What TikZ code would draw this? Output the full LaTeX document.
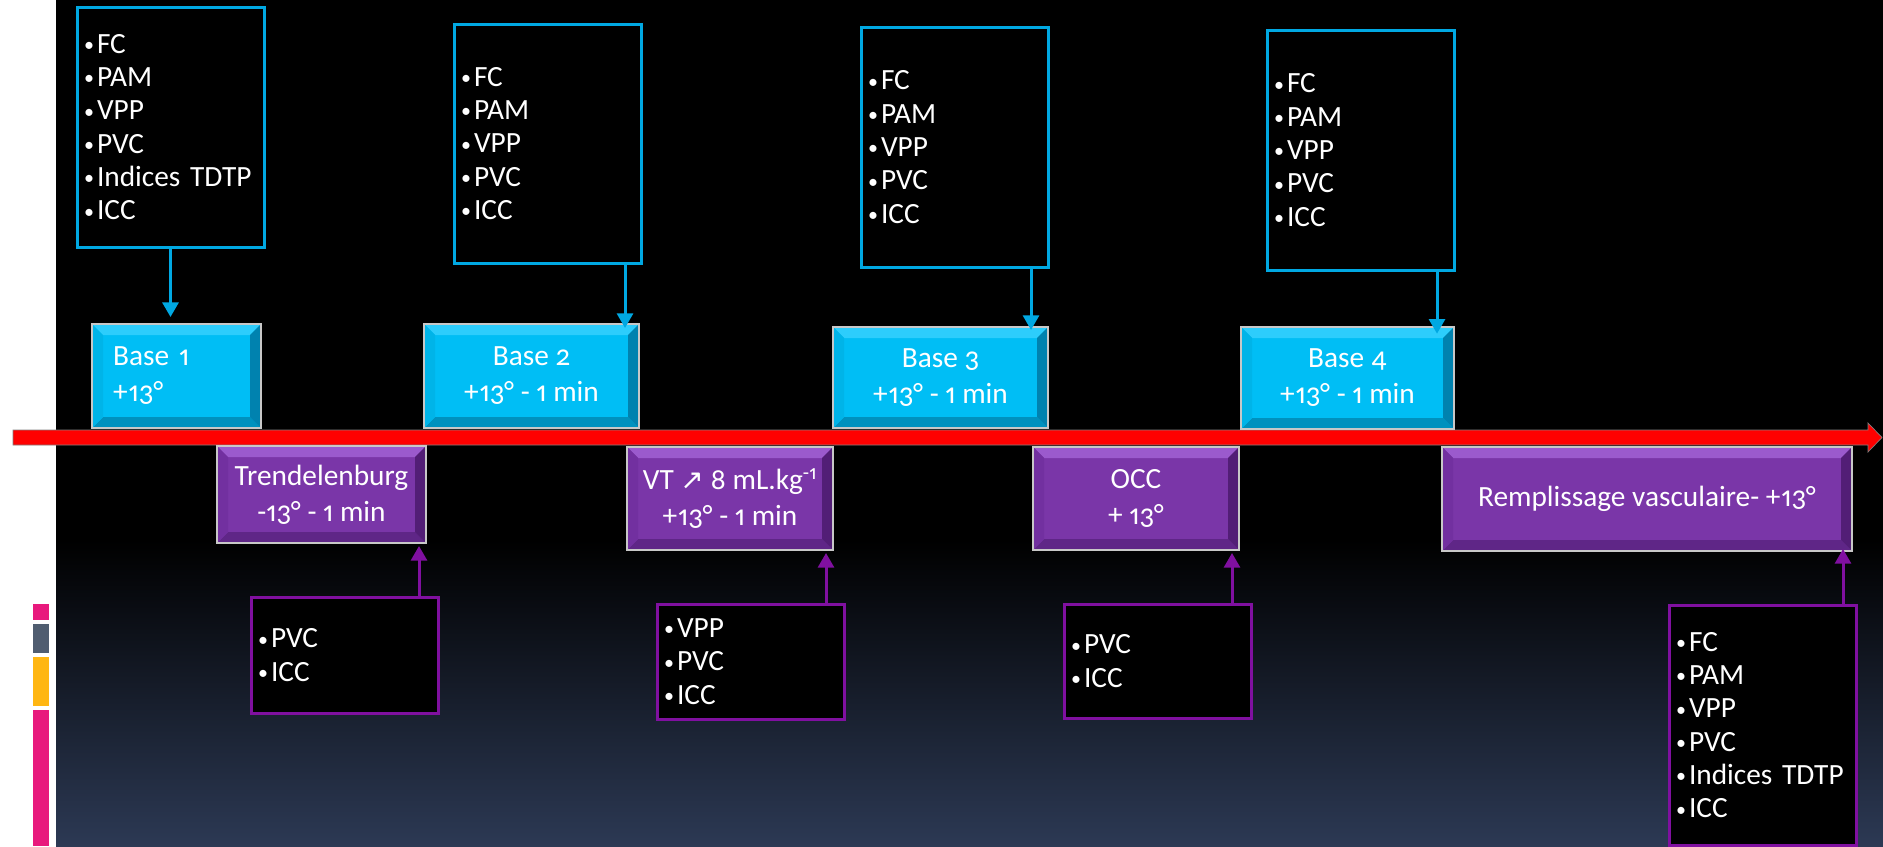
\documentclass[tikz,border=0pt]{standalone}
\usepackage{fontspec}
\setmainfont{Carlito}[Numbers={OldStyle,Proportional}]
\newfontfamily\dejavu{DejaVu Sans}
\usetikzlibrary{arrows.meta}
\definecolor{lblue}{RGB}{0,168,226}
\definecolor{pborder}{RGB}{128,16,160}
\definecolor{bmain}{RGB}{0,190,245}
\definecolor{btop}{RGB}{45,205,252}
\definecolor{bbot}{RGB}{0,145,190}
\definecolor{bleft}{RGB}{0,180,232}
\definecolor{bright}{RGB}{0,130,175}
\definecolor{pmain}{RGB}{122,54,168}
\definecolor{ptop}{RGB}{155,90,205}
\definecolor{pbot}{RGB}{95,38,135}
\definecolor{pleft}{RGB}{114,48,160}
\definecolor{pright}{RGB}{82,30,118}
\definecolor{boxedge}{RGB}{200,200,200}
\definecolor{bgbot}{RGB}{44,57,84}
\definecolor{barpink}{RGB}{232,25,125}
\definecolor{bargray}{RGB}{80,93,112}
\definecolor{baryellow}{RGB}{255,182,18}
\newcommand\bul{\makebox[12pt][c]{\raisebox{1.2pt}{\fontsize{15pt}{15pt}\selectfont •}}}
\begin{document}
\begin{tikzpicture}[x=0.75pt,y=-0.75pt,
  listbox/.style={draw=#1, line width=2.25pt, fill=black, text=white, align=left,
    text width=134.25pt, inner xsep=3pt, inner ysep=0pt, outer sep=0pt,
    anchor=north west, font=\fontsize{22pt}{25pt}\selectfont},
  bevelbox/.style n args={5}{fill=#1, draw=boxedge, line width=1.5pt, outer sep=0pt,
    anchor=north west, text=white, align=center, inner sep=0pt,
    font=\fontsize{22pt}{27pt}\selectfont,
    path picture={
      \fill[#2] (path picture bounding box.north west) -- (path picture bounding box.north east)
        -- ([shift={(-11,11)}]path picture bounding box.north east)
        -- ([shift={(11,11)}]path picture bounding box.north west) -- cycle;
      \fill[#3] (path picture bounding box.south west) -- (path picture bounding box.south east)
        -- ([shift={(-11,-11)}]path picture bounding box.south east)
        -- ([shift={(11,-11)}]path picture bounding box.south west) -- cycle;
      \fill[#4] (path picture bounding box.north west)
        -- ([shift={(11,11)}]path picture bounding box.north west)
        -- ([shift={(11,-11)}]path picture bounding box.south west)
        -- (path picture bounding box.south west) -- cycle;
      \fill[#5] (path picture bounding box.north east)
        -- ([shift={(-11,11)}]path picture bounding box.north east)
        -- ([shift={(-11,-11)}]path picture bounding box.south east)
        -- (path picture bounding box.south east) -- cycle;
    }},
  bluebox/.style={bevelbox={bmain}{btop}{bbot}{bleft}{bright}},
  purplebox/.style={bevelbox={pmain}{ptop}{pbot}{pleft}{pright}},
  barrow/.style={draw=lblue, line width=2.25pt, -{Triangle[width=12pt,length=11pt]}},
  parrow/.style={draw=pborder, line width=2.25pt, -{Triangle[width=12pt,length=11pt]}}
]
\useasboundingbox (0,0) rectangle (1883,846);
% background
\fill[white] (0,0) rectangle (1883,846);
\fill[black] (56,0) rectangle (1883,541);
\shade[top color=black, bottom color=bgbot] (56,540) rectangle (1883,846);
% left colour bars
\fill[barpink] (33,604) rectangle (49,620);
\fill[bargray] (33,624) rectangle (49,653);
\fill[baryellow] (33,657) rectangle (49,706);
\fill[barpink] (33,710) rectangle (49,846);
% timeline arrow
\fill[red, draw=black!50, line width=0.5pt] (13,430) -- (1868,430) -- (1868,423) -- (1882,437.5)
  -- (1868,452) -- (1868,445) -- (13,445) -- cycle;

% top lists
\node[listbox=lblue, minimum height=180pt] (L1) at (77,7)
  {\bul FC\\\bul PAM\\\bul VPP\\\bul PVC\\\bul Indices TDTP\\\bul ICC};
\node[listbox=lblue, minimum height=179.25pt] (L2) at (454,24)
  {\bul FC\\\bul PAM\\\bul VPP\\\bul PVC\\\bul ICC};
\node[listbox=lblue, minimum height=180pt] (L3) at (861,27)
  {\bul FC\\\bul PAM\\\bul VPP\\\bul PVC\\\bul ICC};
\node[listbox=lblue, minimum height=180pt] (L4) at (1267,30)
  {\bul FC\\\bul PAM\\\bul VPP\\\bul PVC\\\bul ICC};

% base boxes
\node[bluebox, minimum width=126.75pt, minimum height=78pt, align=left,
  text width=95pt, inner xsep=15.75pt] (B1) at (92,324) {Base 1\\+13°};
\node[bluebox, minimum width=161.25pt, minimum height=78pt] (B2) at (424,324) {Base 2\\+13° - 1 min};
\node[bluebox, minimum width=161.25pt, minimum height=75.75pt] (B3) at (833,327) {Base 3\\+13° - 1 min};
\node[bluebox, minimum width=159.75pt, minimum height=76.5pt] (B4) at (1241,327) {Base 4\\+13° - 1 min};

% purple boxes
\node[purplebox, minimum width=156.75pt, minimum height=72.75pt] (P1) at (217,446) {Trendelenburg\\-13° - 1 min};
\node[purplebox, minimum width=154.5pt, minimum height=77.25pt] (P2) at (627,447)
  {VT {\dejavu\fontsize{21pt}{21pt}\selectfont ↗} 8 mL.kg\textsuperscript{-1}\\+13° - 1 min};
\node[purplebox, minimum width=154.5pt, minimum height=77.25pt] (P3) at (1033,447) {OCC\\+ 13°};
\node[purplebox, minimum width=307.5pt, minimum height=78pt] (P4) at (1442,447) {Remplissage vasculaire- +13°};

% bottom lists
\node[listbox=pborder, minimum height=87pt] (Q1) at (251,597) {\bul PVC\\\bul ICC};
\node[listbox=pborder, minimum height=86.25pt] (Q2) at (657,604) {\bul VPP\\\bul PVC\\\bul ICC};
\node[listbox=pborder, minimum height=85.5pt] (Q3) at (1064,604) {\bul PVC\\\bul ICC};
\node[listbox=pborder, minimum height=180pt] (Q4) at (1669,605)
  {\bul FC\\\bul PAM\\\bul VPP\\\bul PVC\\\bul Indices TDTP\\\bul ICC};

% blue arrows
\draw[barrow, shorten >=5.25pt] (L1.south) -- (L1.south |- B1.north);
\coordinate (a2) at ([xshift=-10.5pt]B2.north east);
\draw[barrow, shorten >=-3pt] (a2 |- L2.south) -- (a2);
\coordinate (a3) at ([xshift=-12.75pt]B3.north east);
\draw[barrow, shorten >=-2.25pt] (a3 |- L3.south) -- (a3);
\coordinate (a4) at ([xshift=-12.75pt]B4.north east);
\draw[barrow, shorten >=-5pt] (a4 |- L4.south) -- (a4);

% purple arrows
\coordinate (u1) at ([xshift=-5.25pt]P1.south east);
\draw[parrow, shorten >=2.25pt] (u1 |- Q1.north) -- (u1);
\coordinate (u2) at ([xshift=-5.25pt]P2.south east);
\draw[parrow, shorten >=2.25pt] (u2 |- Q2.north) -- (u2);
\coordinate (u3) at ([xshift=-5.25pt]P3.south east);
\draw[parrow, shorten >=2.25pt] (u3 |- Q3.north) -- (u3);
\coordinate (u4) at ([xshift=-6.75pt]P4.south east);
\draw[parrow, shorten >=-1.5pt] (u4 |- Q4.north) -- (u4);
\end{tikzpicture}
\end{document}
